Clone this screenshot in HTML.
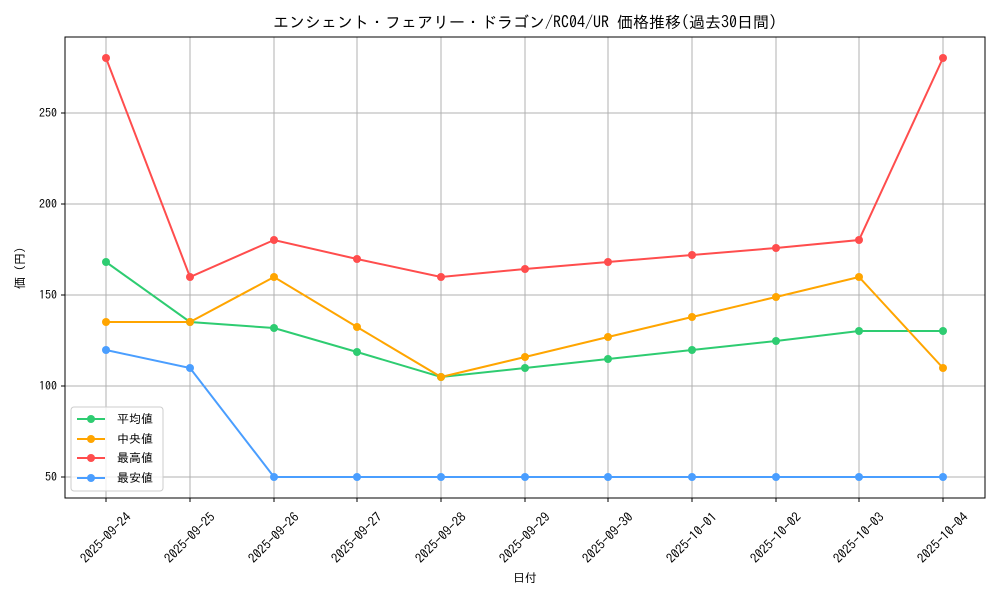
<!DOCTYPE html>
<html><head><meta charset="utf-8"><style>
body{margin:0;background:#fff;}
text{font-family:"IPAGothic","Noto Sans CJK JP",sans-serif;fill:#000;}
</style></head><body>
<svg width="1000" height="600" xmlns="http://www.w3.org/2000/svg">
<rect width="1000" height="600" fill="#fff"/>
<text x="525" y="28" font-size="16" text-anchor="middle">エンシェント・フェアリー・ドラゴン/RC04/UR 価格推移(過去30日間)</text>
<g stroke="#b0b0b0" stroke-width="1">
<line x1="65" x2="985" y1="113" y2="113"/><line x1="65" x2="985" y1="204" y2="204"/><line x1="65" x2="985" y1="295" y2="295"/><line x1="65" x2="985" y1="386" y2="386"/><line x1="65" x2="985" y1="477" y2="477"/>
<line x1="106" x2="106" y1="37" y2="498"/><line x1="190" x2="190" y1="37" y2="498"/><line x1="274" x2="274" y1="37" y2="498"/><line x1="357" x2="357" y1="37" y2="498"/><line x1="441" x2="441" y1="37" y2="498"/><line x1="525" x2="525" y1="37" y2="498"/><line x1="608" x2="608" y1="37" y2="498"/><line x1="692" x2="692" y1="37" y2="498"/><line x1="776" x2="776" y1="37" y2="498"/><line x1="859" x2="859" y1="37" y2="498"/><line x1="943" x2="943" y1="37" y2="498"/>
</g>
<rect x="65" y="37" width="920" height="461" fill="none" stroke="#000" stroke-width="1"/>
<g font-size="12" text-anchor="end">
<text x="57" y="117">250</text><text x="57" y="208">200</text><text x="57" y="299">150</text><text x="57" y="390">100</text><text x="57" y="481">50</text>
</g>
<g stroke="#000"><line x1="61" x2="65" y1="113" y2="113"/><line x1="61" x2="65" y1="204" y2="204"/><line x1="61" x2="65" y1="295" y2="295"/><line x1="61" x2="65" y1="386" y2="386"/><line x1="61" x2="65" y1="477" y2="477"/>
<line x1="106" x2="106" y1="498" y2="502"/><line x1="190" x2="190" y1="498" y2="502"/><line x1="274" x2="274" y1="498" y2="502"/><line x1="357" x2="357" y1="498" y2="502"/><line x1="441" x2="441" y1="498" y2="502"/><line x1="525" x2="525" y1="498" y2="502"/><line x1="608" x2="608" y1="498" y2="502"/><line x1="692" x2="692" y1="498" y2="502"/><line x1="776" x2="776" y1="498" y2="502"/><line x1="859" x2="859" y1="498" y2="502"/><line x1="943" x2="943" y1="498" y2="502"/></g>
<g font-size="13" text-anchor="middle">
<text transform="translate(106,538) rotate(-45)" dy="4">2025-09-24</text>
<text transform="translate(190,538) rotate(-45)" dy="4">2025-09-25</text>
<text transform="translate(274,538) rotate(-45)" dy="4">2025-09-26</text>
<text transform="translate(357,538) rotate(-45)" dy="4">2025-09-27</text>
<text transform="translate(441,538) rotate(-45)" dy="4">2025-09-28</text>
<text transform="translate(525,538) rotate(-45)" dy="4">2025-09-29</text>
<text transform="translate(608,538) rotate(-45)" dy="4">2025-09-30</text>
<text transform="translate(692,538) rotate(-45)" dy="4">2025-10-01</text>
<text transform="translate(776,538) rotate(-45)" dy="4">2025-10-02</text>
<text transform="translate(859,538) rotate(-45)" dy="4">2025-10-03</text>
<text transform="translate(943,538) rotate(-45)" dy="4">2025-10-04</text>
</g>
<text x="525" y="582" font-size="12" text-anchor="middle">日付</text>
<text transform="translate(24,268) rotate(-90)" font-size="12" text-anchor="middle">価 (円)</text>
<g fill="none" stroke-width="2">
<polyline stroke="#2ecc71" points="106,262 190,322 274,328 357,352 441,377 525,368 608,359 692,350 776,341 859,331 943,331"/>
<polyline stroke="#ffa500" points="106,322 190,322 274,277 357,327 441,377 525,357 608,337 692,317 776,297 859,277 943,368"/>
<polyline stroke="#ff4d4d" points="106,58 190,277 274,240 357,259 441,277 525,269 608,262 692,255 776,248 859,240 943,58"/>
<polyline stroke="#4a9eff" points="106,350 190,368 274,477 357,477 441,477 525,477 608,477 692,477 776,477 859,477 943,477"/>
</g>
<g fill="#2ecc71"><circle cx="106" cy="262" r="4"/><circle cx="190" cy="322" r="4"/><circle cx="274" cy="328" r="4"/><circle cx="357" cy="352" r="4"/><circle cx="441" cy="377" r="4"/><circle cx="525" cy="368" r="4"/><circle cx="608" cy="359" r="4"/><circle cx="692" cy="350" r="4"/><circle cx="776" cy="341" r="4"/><circle cx="859" cy="331" r="4"/><circle cx="943" cy="331" r="4"/></g>
<g fill="#ffa500"><circle cx="106" cy="322" r="4"/><circle cx="190" cy="322" r="4"/><circle cx="274" cy="277" r="4"/><circle cx="357" cy="327" r="4"/><circle cx="441" cy="377" r="4"/><circle cx="525" cy="357" r="4"/><circle cx="608" cy="337" r="4"/><circle cx="692" cy="317" r="4"/><circle cx="776" cy="297" r="4"/><circle cx="859" cy="277" r="4"/><circle cx="943" cy="368" r="4"/></g>
<g fill="#ff4d4d"><circle cx="106" cy="58" r="4"/><circle cx="190" cy="277" r="4"/><circle cx="274" cy="240" r="4"/><circle cx="357" cy="259" r="4"/><circle cx="441" cy="277" r="4"/><circle cx="525" cy="269" r="4"/><circle cx="608" cy="262" r="4"/><circle cx="692" cy="255" r="4"/><circle cx="776" cy="248" r="4"/><circle cx="859" cy="240" r="4"/><circle cx="943" cy="58" r="4"/></g>
<g fill="#4a9eff"><circle cx="106" cy="350" r="4"/><circle cx="190" cy="368" r="4"/><circle cx="274" cy="477" r="4"/><circle cx="357" cy="477" r="4"/><circle cx="441" cy="477" r="4"/><circle cx="525" cy="477" r="4"/><circle cx="608" cy="477" r="4"/><circle cx="692" cy="477" r="4"/><circle cx="776" cy="477" r="4"/><circle cx="859" cy="477" r="4"/><circle cx="943" cy="477" r="4"/></g>
<rect x="71" y="407" width="92" height="84" rx="3" fill="#fff" fill-opacity="0.8" stroke="#ccc"/>
<g stroke-width="2">
<line x1="77" x2="105" y1="419" y2="419" stroke="#2ecc71"/><circle cx="91" cy="419" r="4" fill="#2ecc71"/>
<line x1="77" x2="105" y1="439" y2="439" stroke="#ffa500"/><circle cx="91" cy="439" r="4" fill="#ffa500"/>
<line x1="77" x2="105" y1="458" y2="458" stroke="#ff4d4d"/><circle cx="91" cy="458" r="4" fill="#ff4d4d"/>
<line x1="77" x2="105" y1="478" y2="478" stroke="#4a9eff"/><circle cx="91" cy="478" r="4" fill="#4a9eff"/>
</g>
<g font-size="12"><text x="117" y="423">平均値</text><text x="117" y="443">中央値</text><text x="117" y="462">最高値</text><text x="117" y="482">最安値</text></g>
</svg>
</body></html>
